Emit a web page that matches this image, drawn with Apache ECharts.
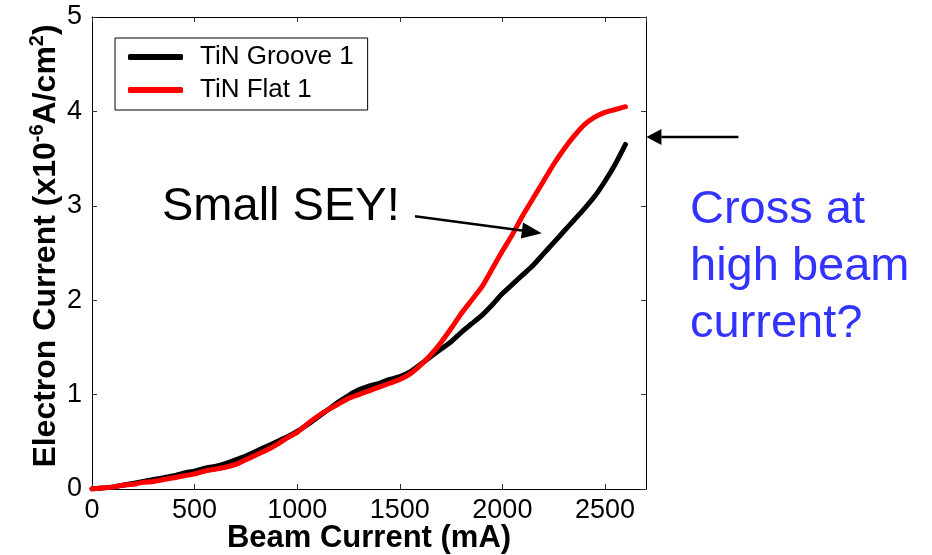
<!DOCTYPE html>
<html>
<head>
<meta charset="utf-8">
<script src="https://cdn.jsdelivr.net/npm/echarts@6/dist/echarts.min.js"></script>
<style>
  html, body { margin: 0; padding: 0; background: #fff; }
  #chart { width: 932px; height: 555px; }
</style>
</head>
<body>
<div id="chart"></div>
<script>
// Beam current sample points (mA)
const beamCurrent = [0, 50, 100, 150, 200, 250, 300, 350, 400, 450, 500, 550, 600, 650, 700, 750, 800, 850, 900, 950,
  1000, 1050, 1100, 1150, 1200, 1250, 1300, 1350, 1400, 1450, 1500, 1550, 1600, 1650, 1700, 1750, 1800, 1850, 1900, 1950,
  2000, 2050, 2100, 2150, 2200, 2250, 2300, 2350, 2400, 2450, 2500, 2550, 2600];

// Electron current, x10^-6 A/cm^2
const grooveCurrent = [0.00, 0.01, 0.02, 0.04, 0.06, 0.08, 0.10, 0.12, 0.14, 0.17, 0.19, 0.22, 0.24, 0.27, 0.31, 0.35, 0.40, 0.45, 0.50, 0.55,
  0.61, 0.68, 0.76, 0.84, 0.92, 0.99, 1.05, 1.09, 1.12, 1.16, 1.19, 1.24, 1.32, 1.40, 1.48, 1.56, 1.66, 1.75, 1.84, 1.95,
  2.07, 2.17, 2.27, 2.37, 2.49, 2.61, 2.73, 2.85, 2.97, 3.10, 3.26, 3.44, 3.65];

const flatCurrent = [0.00, 0.01, 0.02, 0.04, 0.05, 0.07, 0.08, 0.10, 0.12, 0.14, 0.16, 0.19, 0.21, 0.23, 0.26, 0.31, 0.36, 0.41, 0.47, 0.54,
  0.60, 0.69, 0.77, 0.84, 0.90, 0.96, 1.00, 1.04, 1.08, 1.12, 1.16, 1.22, 1.31, 1.42, 1.55, 1.70, 1.86, 2.00, 2.14, 2.33,
  2.52, 2.70, 2.90, 3.08, 3.26, 3.44, 3.60, 3.74, 3.86, 3.94, 3.99, 4.02, 4.05];

const seriesNames = ['TiN Groove 1', 'TiN Flat 1'];

const FONT = 'Arial, "Liberation Sans", sans-serif';

const pairs = (ys) => beamCurrent.map((x, i) => [x, ys[i]]);
const plain = (v) => String(v);

const chart = echarts.init(document.getElementById('chart'));

const tickStyle = { show: true, inside: true, length: 5, lineStyle: { color: '#333', width: 1 } };
const frameLine = { show: true, onZero: false, lineStyle: { color: '#000', width: 1 } };

chart.setOption({
  animation: false,
  backgroundColor: '#fff',
  grid: { left: 92, top: 17, width: 554, height: 472, containLabel: false, outerBoundsMode: 'none' },
  legend: {
    orient: 'vertical',
    left: 115, top: 38,
    padding: [6, 14, 7, 13],
    itemGap: 7,
    itemWidth: 55, itemHeight: 6,
    icon: 'roundRect',
    borderColor: '#000', borderWidth: 1,
    textStyle: { fontFamily: FONT, fontSize: 26, lineHeight: 26, color: '#000', padding: [0, 0, 0, 12] },
    data: seriesNames
  },
  xAxis: [{
    type: 'value', min: 0, max: 2700, interval: 500,
    position: 'bottom',
    name: 'Beam Current (mA)', nameLocation: 'middle', nameGap: 34, nameMoveOverlap: false,
    nameTextStyle: { fontFamily: FONT, fontSize: 31, fontWeight: 'bold', color: '#000', lineHeight: 31 },
    axisLine: frameLine,
    axisTick: tickStyle,
    axisLabel: { fontFamily: FONT, fontSize: 27, color: '#000', margin: 8, showMaxLabel: false, formatter: plain },
    splitLine: { show: false }
  }, {
    type: 'value', min: 0, max: 2700, interval: 500,
    position: 'top',
    axisLine: frameLine,
    axisTick: tickStyle,
    axisLabel: { show: false },
    splitLine: { show: false }
  }],
  yAxis: [{
    type: 'value', min: 0, max: 5, interval: 1,
    position: 'left',
    name: '{b|Electron Current (x10}{s|-6}{b|A/cm}{s|2}{b|)}',
    nameLocation: 'middle', nameGap: 30, nameMoveOverlap: false,
    nameTextStyle: {
      fontFamily: FONT, color: '#000',
      padding: [0, 0, 0, 14],
      rich: {
        b: { fontFamily: FONT, fontSize: 32, fontWeight: 'bold', color: '#000', lineHeight: 35, verticalAlign: 'bottom' },
        s: { fontFamily: FONT, fontSize: 20, fontWeight: 'bold', color: '#000', lineHeight: 35, verticalAlign: 'top' }
      }
    },
    axisLine: frameLine,
    axisTick: tickStyle,
    axisLabel: { fontFamily: FONT, fontSize: 27, color: '#000', margin: 10, formatter: plain },
    splitLine: { show: false }
  }, {
    type: 'value', min: 0, max: 5, interval: 1,
    position: 'right',
    axisLine: frameLine,
    axisTick: tickStyle,
    axisLabel: { show: false },
    splitLine: { show: false }
  }],
  series: [{
    name: seriesNames[0], type: 'line',
    xAxisIndex: 0, yAxisIndex: 0,
    data: pairs(grooveCurrent),
    showSymbol: false, smooth: 0.15,
    lineStyle: { color: '#000', width: 5, cap: 'round', join: 'round' },
    itemStyle: { color: '#000' },
    z: 2
  }, {
    name: seriesNames[1], type: 'line',
    xAxisIndex: 0, yAxisIndex: 0,
    data: pairs(flatCurrent),
    showSymbol: false, smooth: 0.15,
    lineStyle: { color: '#ff0000', width: 5, cap: 'round', join: 'round' },
    itemStyle: { color: '#ff0000' },
    z: 3
  }]
});

// Annotation arrows, anchored in data coordinates
function arrow(from, to, headLen, headHalf) {
  const dx = to[0] - from[0], dy = to[1] - from[1];
  const len = Math.hypot(dx, dy);
  const ux = dx / len, uy = dy / len;
  const bx = to[0] - ux * headLen, by = to[1] - uy * headLen;
  return [{
    type: 'line', z: 10,
    shape: { x1: from[0], y1: from[1], x2: bx, y2: by },
    style: { stroke: '#000', lineWidth: 2.5 }
  }, {
    type: 'polygon', z: 10,
    shape: { points: [to, [bx - uy * headHalf, by + ux * headHalf], [bx + uy * headHalf, by - ux * headHalf]] },
    style: { fill: '#000' }
  }];
}

const px = (pt) => chart.convertToPixel({ xAxisIndex: 0, yAxisIndex: 0 }, pt);
const seyTail = px([1574, 2.89]);
const seyTip = px([2192, 2.71]);
const crossTip = px([2702, 3.73]);
const crossTail = [crossTip[0] + 92, crossTip[1]];

chart.setOption({
  graphic: [
    {
      type: 'text', left: 162, top: 184, z: 10,
      style: { text: 'Small SEY!', fontFamily: FONT, fontSize: 47, fill: '#000' }
    },
    {
      type: 'text', left: 690, top: 182, z: 10,
      style: {
        text: 'Cross at\nhigh beam\ncurrent?',
        fontFamily: FONT, fontSize: 47, lineHeight: 57, fill: '#3333ff'
      }
    },
    ...arrow(seyTail, seyTip, 20, 8),
    ...arrow(crossTail, crossTip, 15, 8)
  ]
});
</script>
</body>
</html>
